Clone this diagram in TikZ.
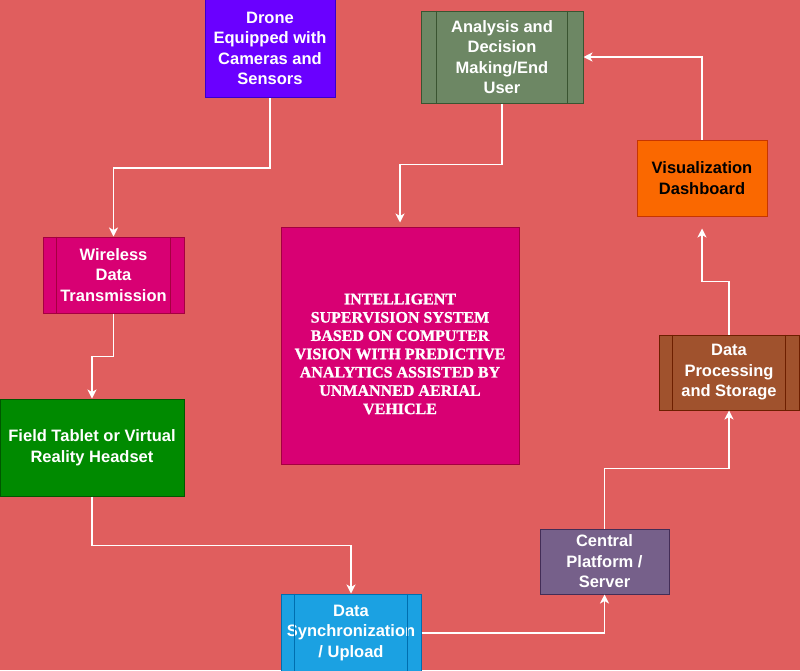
\documentclass[tikz,border=0pt]{standalone}
\usepackage{fontspec}
\setmainfont{Liberation Sans}
\newfontfamily\slabfont{Liberation Serif}[FakeBold=1.2]
\usetikzlibrary{arrows.meta,calc}
\definecolor{bgred}{RGB}{224,94,94}
\definecolor{dronefill}{HTML}{6A00FF}\definecolor{dronedraw}{HTML}{3700CC}
\definecolor{anafill}{HTML}{6D8764}\definecolor{anadraw}{HTML}{3A5431}
\definecolor{visfill}{HTML}{FA6800}\definecolor{visdraw}{HTML}{C73500}
\definecolor{magfill}{HTML}{D80073}\definecolor{magdraw}{HTML}{A50040}
\definecolor{grnfill}{HTML}{008A00}\definecolor{grndraw}{HTML}{005700}
\definecolor{blufill}{HTML}{1BA1E2}\definecolor{bludraw}{HTML}{006EAF}
\definecolor{purfill}{HTML}{76608A}\definecolor{purdraw}{HTML}{432D57}
\definecolor{brnfill}{HTML}{A0522D}\definecolor{brndraw}{HTML}{6D1F00}
\tikzset{
  box/.style={draw, line width=1pt, rectangle, inner sep=0pt, align=center,
    text=white, font=\fontsize{16.5}{20.5}\selectfont\bfseries},
  conn/.style={draw=white, line width=1.3pt, -{Stealth[length=9pt,width=9pt,inset=2.5pt]}},
  side/.style={line width=1pt}
}
\begin{document}
\begin{tikzpicture}[x=1pt,y=-1pt]
\fill[bgred] (0,0) rectangle (800,670);
\useasboundingbox (0,0) rectangle (800,670);

\node[box, fill=dronefill, draw=dronedraw, minimum width=130pt, minimum height=98pt] (drone) at (270,48.5)
  {Drone\\Equipped with\\Cameras and\\Sensors};
\node[box, fill=anafill, draw=anadraw, minimum width=162pt, minimum height=92pt] (ana) at (502,57)
  {Analysis and\\Decision\\Making/End\\User};
\draw[anadraw, side] ($(ana.north west)+(16,0)$) -- ($(ana.south west)+(16,0)$);
\draw[anadraw, side] ($(ana.north east)+(-16,0)$) -- ($(ana.south east)+(-16,0)$);
\node[box, fill=visfill, draw=visdraw, text=black, minimum width=130pt, minimum height=76pt] (vis) at (702,178)
  {Visualization\\Dashboard};
\node[box, fill=magfill, draw=magdraw, minimum width=141pt, minimum height=76pt] (wire) at (113.5,275)
  {Wireless\\Data\\Transmission};
\draw[magdraw, side] ($(wire.north west)+(14,0)$) -- ($(wire.south west)+(14,0)$);
\draw[magdraw, side] ($(wire.north east)+(-14,0)$) -- ($(wire.south east)+(-14,0)$);
\node[box, fill=magfill, draw=magdraw, minimum width=238pt, minimum height=237pt] (core) at (400,345.5) {};
\node[text=white, align=center, font=\slabfont\fontsize{16}{18.3}\selectfont\bfseries] (coretext) at (400,354)
  {INTELLIGENT\\SUPERVISION SYSTEM\\BASED ON COMPUTER\\VISION WITH PREDICTIVE\\ANALYTICS ASSISTED BY\\UNMANNED AERIAL\\VEHICLE};
\node[box, fill=grnfill, draw=grndraw, minimum width=184pt, minimum height=97pt] (field) at (92,447.5)
  {Field Tablet or Virtual\\Reality Headset};
\node[box, fill=blufill, draw=bludraw, minimum width=140pt, minimum height=78pt] (sync) at (351,633)
  {Data\\Synchronization\\/ Upload};
\draw[bludraw, side] ($(sync.north west)+(14,0)$) -- ($(sync.south west)+(14,0)$);
\draw[bludraw, side] ($(sync.north east)+(-14,0)$) -- ($(sync.south east)+(-14,0)$);
\node[box, fill=purfill, draw=purdraw, minimum width=129pt, minimum height=65pt] (central) at (604.5,561.5)
  {Central\\Platform /\\Server};
\node[box, fill=brnfill, draw=brndraw, minimum width=140pt, minimum height=75pt] (proc) at (729,372.5)
  {Data\\Processing\\and Storage};
\draw[brndraw, side] ($(proc.north west)+(14,0)$) -- ($(proc.south west)+(14,0)$);
\draw[brndraw, side] ($(proc.north east)+(-14,0)$) -- ($(proc.south east)+(-14,0)$);

\draw[conn] (drone.south) -- ++(0,70) -| (wire.north);
\draw[conn] (wire.south) -- ++(0,43) -| (field.north);
\draw[conn] (field.south) -- ++(0,49) -| (sync.north);
\draw[conn] (sync.east) -| (central.south);
\draw[conn] (central.north) -- ++(0,-60) -| (proc.south);
\draw[conn, shorten >=12pt] (proc.north) -- ++(0,-53) -| (vis.south);
\draw[conn] (vis.north) |- (ana.east);
\draw[conn, shorten >=4pt] (ana.south) -- ++(0,61) -| (core.north);
\end{tikzpicture}
\end{document}
